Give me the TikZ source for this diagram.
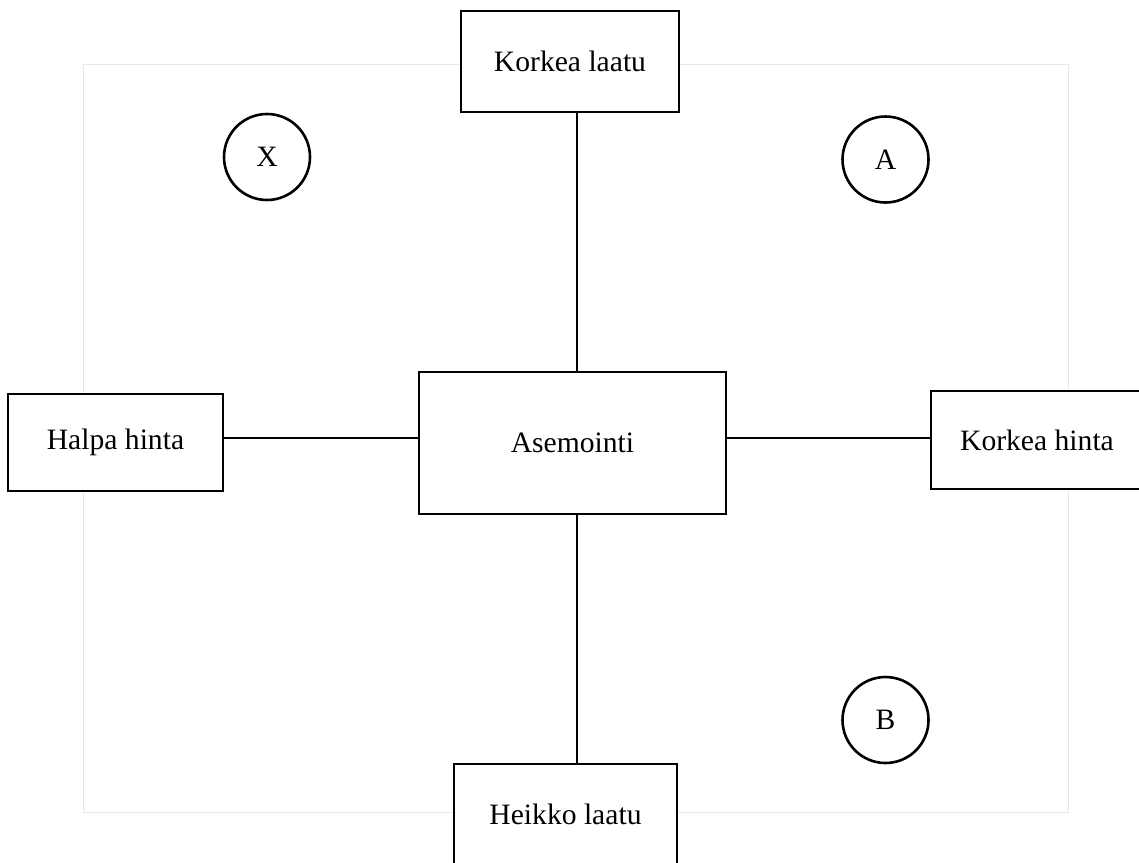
\documentclass[tikz,border=0pt]{standalone}
\usepackage{fontspec}
\setmainfont{Liberation Serif}
\usepackage{tikz}
\usetikzlibrary{calc}
\tikzset{
    % frame behind the whole map
    frame/.style={draw=black!9, line width=0.5pt},
    % rectangular label boxes
    labelbox/.style={draw, fill=white, line width=1.3pt, rectangle,
        inner sep=0pt, font=\fontsize{14.8}{18}\selectfont},
    % small circles marking the quadrants
    quadrant/.style={draw, circle, line width=1.3pt, minimum size=43pt,
        inner sep=0pt, font=\fontsize{14.8}{18}\selectfont},
    axisline/.style={line width=1.3pt}
}
\begin{document}
\begin{tikzpicture}[x=0.5pt, y=-0.5pt]
            \useasboundingbox (0,0) rectangle (1139,862);
            \draw[frame] (83,64) rectangle (1068,812);
            \coordinate (axis) at (577,438);
            \node (center) at (572.5,443)[labelbox, minimum width=153.5pt, minimum height=71pt]{Asemointi};
            \node (hq) at (570,61.5)[labelbox, minimum width=109pt, minimum height=50.5pt]{Korkea laatu};
            \node (lq) at (565.5,814)[labelbox, minimum width=111.5pt, minimum height=50pt]{Heikko laatu};
            \node (lp) at (115.5,442.5)[labelbox, minimum width=107.5pt, minimum height=48.5pt]{Halpa hinta};
            \node (hp) at (1037,440)[labelbox, minimum width=106pt, minimum height=49pt]{Korkea hinta};
            \begin{scope}[axisline]
                \draw (axis |- hq.south) -- (axis |- center.north);
                \draw (axis |- center.south) -- (axis |- lq.north);
                \draw (lp.east |- axis) -- (center.west |- axis);
                \draw (center.east |- axis) -- (hp.west |- axis);
            \end{scope}
            \node (qx) at (267,157)[quadrant]{X};
            \node (qa) at (885.5,159.5)[quadrant]{A};
            \node (qb) at (885.5,720)[quadrant]{B};
        \end{tikzpicture}
\end{document}
